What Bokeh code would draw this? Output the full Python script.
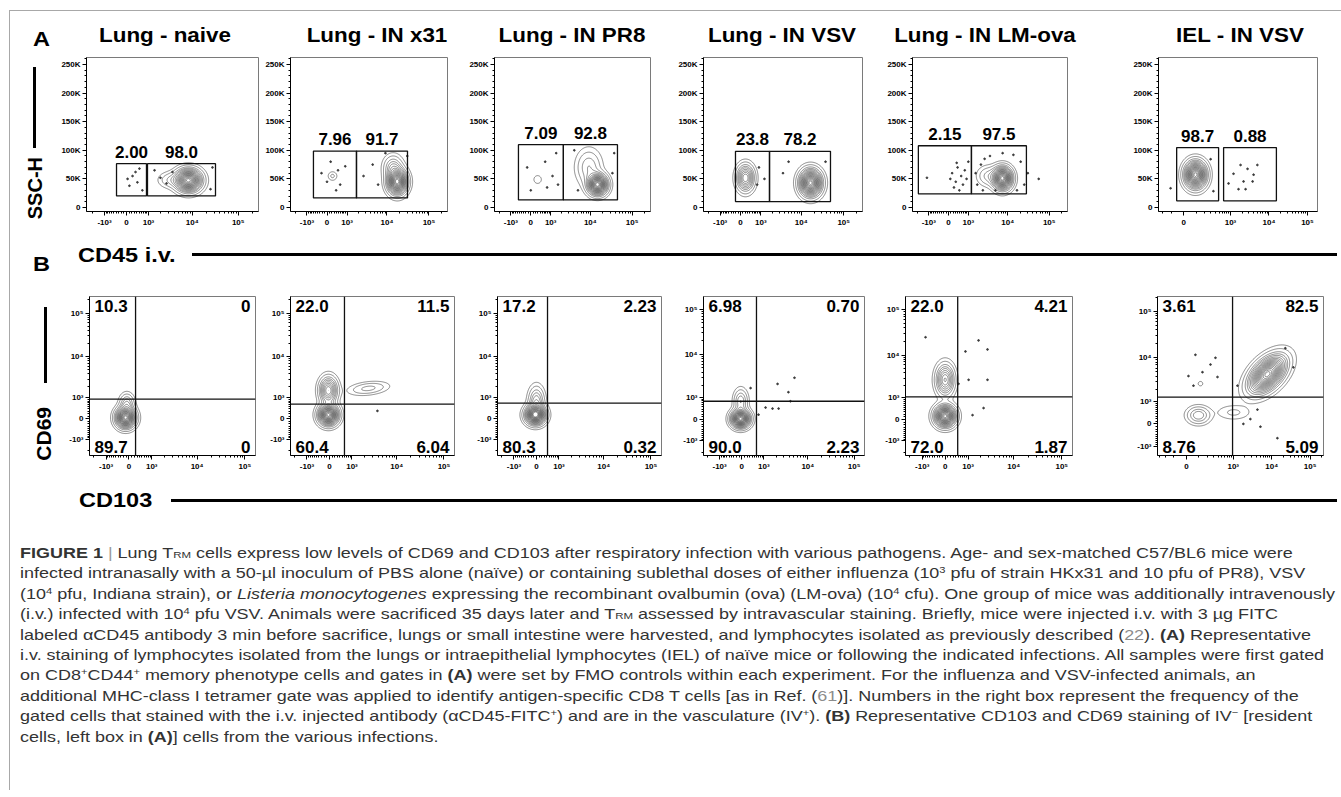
import numpy as np
from bokeh.plotting import figure
from bokeh.models import Range1d, FixedTicker, SingleIntervalTicker, Span, ColumnDataSource, Div
from bokeh.layouts import row, column
from bokeh.embed import file_html
from bokeh.resources import INLINE
from bokeh.core.properties import value

# ============================ DATA ============================
panel_titles = ["Lung - naive", "Lung - IN x31", "Lung - IN PR8",
                "Lung - IN VSV", "Lung - IN LM-ova", "IEL - IN VSV"]

# ---- (A) CD45 i.v. (x) vs SSC-H (y) ----
a_left_gate_x = [(-390, 880), (-610, 1810), (-550, 2200), (-205, 1725), (-1930, 1230), (-52, 486)]
a_right_gate_x = [(940, 32100), (1810, 30800), (2200, 44600), (1725, 48800), (1230, 28200), (660, 15600)]
a_gate_ssc = [(20300, 76500), (16800, 98600), (13300, 109800), (10300, 98200), (23900, 107900), (11600, 104700)]
a_pct_left = ["2.00", "7.96", "7.09", "23.8", "2.15", "98.7"]
a_pct_right = ["98.0", "91.7", "92.8", "78.2", "97.5", "0.88"]
a_cd45_cofactor = [750, 750, 750, 750, 750, 122]

# populations: (CD45, SSC, spread CD45 [asinh units], spread SSC, peak, correlation)
a_pops = [
    [(8300, 47500, 0.36, 11000, 1.0, 0.0), (3350, 48000, 0.35, 8000, 0.10, 0.0)],
    [(17600, 45000, 0.30, 12000, 1.0, 0.0), (14000, 70000, 0.30, 12000, 0.20, 0.0),
     (230, 55000, 0.16, 5000, 0.06, 0.0)],
    [(14900, 40000, 0.30, 10000, 1.0, 0.0), (9190, 70000, 0.40, 18000, 0.15, 0.0),
     (290, 48900, 0.15, 5000, 0.05, 0.0)],
    [(16600, 43000, 0.33, 13000, 1.0, 0.0), (205, 51700, 0.27, 13000, 0.5, 0.0)],
    [(7440, 51000, 0.30, 11000, 1.0, 0.0), (3350, 55000, 0.35, 10000, 0.12, 0.0)],
    [(94, 57300, 0.36, 13000, 1.0, 0.0)],
]
a_dots_cd45 = [
    [230, 350, 430, 110, 520, 40, 660, 1980, 2720, 3700, 1430, 27600, 25000],
    [0, 480, 590, -230, 390, 880, 150, 2720, 4540, 6140, 30500, 9190],
    [-150, 660, 1130, 770, 0, 1430, 1600, 4100, 37300, 33800, 5030],
    [880, 1270, 770, 3700, 5030, 37300],
    [150, 308, 391, 570, 666, 229, 770, 881, 478, 75, -1130, 1000, 349,
     1600, 1770, 2200, 2720, 3700, 7510, 13700, 20500, 25000, 16700, 2460, 5030, 30500, 55700],
    [1830, 2780, 3990, 5010, 2190, 3760, 1200, 1620, 2470, 890, -105, 294, 352],
]
a_dots_ssc = [
    [55000, 62000, 44000, 38000, 68000, 50000, 30000, 52000, 42000, 62000, 65000, 70000, 32000],
    [45000, 65000, 40000, 60000, 30000, 72000, 80000, 55000, 75000, 40000, 90000, 95000],
    [70000, 80000, 55000, 35000, 30000, 95000, 40000, 100000, 95000, 60000, 30000],
    [70000, 50000, 40000, 60000, 80000, 80000],
    [60000, 45000, 70000, 55000, 40000, 35000, 65000, 50000, 30000, 50000, 52000, 80000, 78000,
     60000, 40000, 75000, 85000, 90000, 95000, 92000, 80000, 40000, 30000, 30000, 30000, 60000, 50000],
    [74300, 67500, 57300, 74300, 45500, 45500, 59000, 32000, 32000, 42000, 33600, 84400, 28500],
]
ssc_ticks = [0, 50000, 100000, 150000, 200000, 250000]
ssc_tick_labels = ["0", "50K", "100K", "150K", "200K", "250K"]

# ---- (B) CD103 (x) vs CD69 (y) ----
b_thr_cd103 = [244, 600, 425, 600, 478, 960]
b_thr_cd69 = [917, 638, 686, 780, 1060, 1320]
b_pct_ul = ["10.3", "22.0", "17.2", "6.98", "22.0", "3.61"]
b_pct_ur = ["0", "11.5", "2.23", "0.70", "4.21", "82.5"]
b_pct_ll = ["89.7", "60.4", "80.3", "90.0", "72.0", "8.76"]
b_pct_lr = ["0", "6.04", "0.32", "2.23", "1.87", "5.09"]
b_cd103_cofactor = [750, 750, 750, 750, 750, 122]
b_pops = [
    [(-120, 38, 0.26, 0.30, 1.0, 0.0), (-75, 666, 0.20, 0.30, 0.2, 0.0)],
    [(-38, 150, 0.27, 0.30, 1.0, 0.0), (-38, 1580, 0.25, 0.40, 0.5, 0.0), (2450, 1780, 0.55, 0.20, 0.12, 0.3)],
    [(-38, 150, 0.27, 0.28, 1.0, 0.0), (0, 780, 0.22, 0.45, 0.25, 0.0)],
    [(-45, 15, 0.26, 0.25, 1.0, 0.0), (-38, 780, 0.20, 0.35, 0.2, 0.0)],
    [(0, 128, 0.28, 0.30, 1.0, 0.0), (0, 2780, 0.25, 0.45, 0.45, 0.0)],
    [(7780, 4400, 0.62, 0.52, 1.0, 0.5), (96, 332, 0.40, 0.25, 0.2, 0.0),
     (1020, 450, 0.6, 0.22, 0.06, 0.0), (115, 2720, 0.1, 0.08, 0.05, 0.0)],
]
b_dots_cd103 = [
    [], [3860], [],
    [2160, 3780, 5130, 1110, 1650, 2280, 4190, 340, 700],
    [-814, 1780, 2800, 850, 2800, 1030, 2300, 1290, 513],
    [69, 136, 243, 382, 336, 15, 53, 1290, 2800, 4270, 5110, 1840, 22700, 36700, 14100],
]
b_dots_cd69 = [
    [], [316], [],
    [2180, 1380, 3020, 470, 425, 425, 780, 1740, 174],
    [24800, 21100, 13300, 12000, 2780, 2780, 460, 166, 2250],
    [11600, 4870, 7150, 3820, 10000, 4010, 2450, 2450, 182, 578, -105, 0, 16100, 6210, -578],
]
biex_major = [-1000, 0, 1000, 10000, 100000]
biex_major_labels = ["-10\u00b3", "0", "10\u00b3", "10\u2074", "10\u2075"]

# ============================ HELPERS ============================
FONT = "'Liberation Sans', Arial, Helvetica, sans-serif"
LEVELS = [0.02, 0.05, 0.1, 0.15, 0.2, 0.26, 0.32, 0.38, 0.44, 0.5, 0.56, 0.62, 0.68,
          0.74, 0.8, 0.86, 0.92, 0.97]
CONTOUR_COLOR = "#3c3c3c"


def T(v, c):
    return np.arcsinh(np.asarray(v, dtype=float) / c)


def biex_axis(ax, c, lo_u, hi_u, with_neg=True):
    majors, labels = [], {}
    for v, lab in zip(biex_major, biex_major_labels):
        if v < 0 and not with_neg:
            continue
        u = round(float(T(v, c)), 6)
        if lo_u <= u <= hi_u:
            key = 0 if v == 0 else u
            majors.append(key)
            labels[key] = lab
    minors = []
    for d in (2, 3, 4, 5):
        for k in range(1, 10):
            for s in (-1, 1):
                raw = s * k * 10 ** d
                if raw in biex_major or raw in (-100000, -10000):
                    continue
                u = float(T(raw, c))
                if lo_u <= u <= hi_u:
                    minors.append(round(u, 6))
    ax.ticker = FixedTicker(ticks=majors, minor_ticks=sorted(minors))
    ax.major_label_overrides = labels


def style_axis(ax):
    ax.axis_line_color = "black"
    ax.axis_line_width = 1
    ax.major_tick_out = 4
    ax.major_tick_in = 0
    ax.minor_tick_out = 2
    ax.minor_tick_in = 0
    ax.major_tick_line_color = "black"
    ax.minor_tick_line_color = "black"
    ax.major_label_text_font = "Liberation Sans"
    ax.major_label_text_font_style = "bold"
    ax.major_label_text_font_size = "8px"
    ax.major_label_text_color = "black"
    ax.major_label_standoff = 2


def make_fig(w, h, bl, br, bt, bb, xr, yr):
    p = figure(width=w, height=h, x_range=Range1d(*xr), y_range=Range1d(*yr),
               toolbar_location=None, output_backend="svg",
               min_border_left=bl, min_border_right=br, min_border_top=bt, min_border_bottom=bb,
               outline_line_color="#7a7a7a", outline_line_width=1,
               background_fill_color="white", border_fill_color="white")
    p.grid.visible = False
    style_axis(p.xaxis[0])
    style_axis(p.yaxis[0])
    return p


def add_density(p, xr, yr, pops, cx, ytrans):
    xg = np.linspace(xr[0], xr[1], 260)
    yg = np.linspace(yr[0], yr[1], 260)
    X, Y = np.meshgrid(xg, yg)
    Z = np.zeros_like(X)
    for (px, py, sx, sy, a, rho) in pops:
        mx = float(T(px, cx))
        my = ytrans(py)
        dx = (X - mx) / sx
        dy = (Y - my) / sy
        q = (dx ** 2 - 2 * rho * dx * dy + dy ** 2) / (1 - rho ** 2)
        Z += a * np.exp(-0.5 * q)
    p.contour(x=xg, y=yg, z=Z, levels=LEVELS, line_color=CONTOUR_COLOR, line_width=0.6)


def abs_text(txt, left, top, size, bold=True, center=False, sx=1.12, extra=""):
    tr = f"translateX(-50%) scaleX({sx})" if center else f"scaleX({sx})"
    origin = "center top" if center else "left top"
    weight = "bold" if bold else "normal"
    return (f'<div style="position:absolute;left:{left}px;top:{top}px;font-family:{FONT};'
            f'font-size:{size}px;font-weight:{weight};line-height:1;white-space:nowrap;'
            f'transform:{tr};transform-origin:{origin};color:#000;{extra}">{txt}</div>')


def vtext(txt, left, top, size):
    return (f'<div style="position:absolute;left:{left}px;top:{top}px;font-family:{FONT};'
            f'font-size:{size}px;font-weight:bold;line-height:1;white-space:nowrap;'
            f'writing-mode:vertical-rl;transform:rotate(180deg);color:#000">{txt}</div>')


def rect(left, top, w, h, color="#000"):
    return (f'<div style="position:absolute;left:{left}px;top:{top}px;width:{w}px;height:{h}px;'
            f'background:{color}"></div>')


BORDER = "#a8a8a8"
BX = 9          # page x of the figure frame's left border
RIGHT_EDGE = 1338
PAGE_W = RIGHT_EDGE


def band(w, h, inner, top_border=False):
    html = f'<div style="position:relative;width:{w}px;height:{h}px;overflow:visible">'
    if top_border:
        html += rect(BX, 10, 1341 - BX, 1, BORDER) + rect(BX, 10, 1, h - 10, BORDER)
    else:
        html += rect(BX, 0, 1, h, BORDER)
    html += inner + '</div>'
    return Div(text=html, width=w, height=h, margin=0, styles={"overflow": "visible"})


# ============================ TITLE BAND (page y 0-48) ============================
title_centers = [165, 377, 572, 782, 985, 1240]
inner = abs_text("A", 33, 27.5, 21)
for t, cxp in zip(panel_titles, title_centers):
    inner += abs_text(t, cxp, 25, 20, center=True)
title_band = band(PAGE_W, 48, inner, top_border=True)

# ============================ ROW A (page y 48-236) ============================
A_L = [86, 290, 494, 703, 912, 1158]
A_W = [172, 157, 156, 159, 155, 159]
A_T = [57, 57, 57, 55, 54, 52]
A_B = [215, 215, 216, 211, 211, 211]
A_XR = [(-2.0, 6.6)] * 5 + [(-1.5, 8.0)]
A_YR = (-7000, 262144)
A_TOP, A_H = 48, 188

starts = [l - 30 for l in A_L]
ends = starts[1:] + [RIGHT_EDGE]
figs_a = []
for i in range(6):
    w = ends[i] - starts[i]
    br = w - 30 - A_W[i]
    bt = A_T[i] - A_TOP
    bb = A_TOP + A_H - A_B[i]
    cx = a_cd45_cofactor[i]
    p = make_fig(w, A_H, 30, br, bt, bb, A_XR[i], A_YR)
    biex_axis(p.xaxis[0], cx, A_XR[i][0], A_XR[i][1], with_neg=(cx == 750))
    p.yaxis[0].ticker = SingleIntervalTicker(interval=50000, num_minor_ticks=5)
    p.yaxis[0].major_label_overrides = {t: l for t, l in zip(ssc_ticks, ssc_tick_labels)}
    add_density(p, A_XR[i], A_YR, a_pops[i], cx, lambda v: float(v))
    p.scatter(x=T(a_dots_cd45[i], cx), y=a_dots_ssc[i], size=1.7, color="#3a3a3a")
    gl = T(a_left_gate_x[i], cx)
    gr = T(a_right_gate_x[i], cx)
    y0, y1 = a_gate_ssc[i]
    gsrc = ColumnDataSource(dict(left=[gl[0], gr[0]], right=[gl[1], gr[1]],
                                 bottom=[y0, y0], top=[y1, y1],
                                 cx=[(gl[0] + gl[1]) / 2, (gr[0] + gr[1]) / 2],
                                 txt=[a_pct_left[i], a_pct_right[i]]))
    p.quad(left="left", right="right", bottom="bottom", top="top", source=gsrc,
           fill_color=None, line_color="#111111", line_width=1.3)
    p.text(x="cx", y="top", text="txt", source=gsrc, text_align="center", text_baseline="bottom",
           y_offset=-6, text_font=value("Liberation Sans"), text_font_style="bold",
           text_font_size="17px", text_color="black")
    figs_a.append(p)

left_a = band(starts[0], A_H, rect(33, 19, 3, 81) + vtext("SSC-H", 25, 109, 20))
row_a = row([left_a] + figs_a)

# ============================ CD45 BAND (page y 236-280) ============================
inner = abs_text("B", 33, 16.5, 21) + abs_text("CD45 i.v.", 78, 7.5, 21) + rect(192, 17, 1145, 3)
cd45_band = band(PAGE_W, 44, inner)

# ============================ ROW B (page y 280-484) ============================
B_L = [89, 290, 497, 703, 905, 1157]
B_W = [166, 164, 164, 161, 167, 166]
B_T = [296, 296, 296, 293, 292, 289]
B_B = [460, 460, 460, 455, 455, 455]
B_XR = [(-1.9, 6.1)] * 5 + [(-1.73, 8.2)]
B_YR = [(-1.95, 6.46)] * 3 + [(-1.84, 6.22), (-1.84, 6.27), (-1.57, 6.33)]
B_TOP, B_H = 280, 204

starts_b = [l - 30 for l in B_L]
ends_b = starts_b[1:] + [RIGHT_EDGE]
figs_b = []
for i in range(6):
    w = ends_b[i] - starts_b[i]
    br = w - 30 - B_W[i]
    bt = B_T[i] - B_TOP
    bb = B_TOP + B_H - B_B[i]
    cx = b_cd103_cofactor[i]
    xr, yr = B_XR[i], B_YR[i]
    p = make_fig(w, B_H, 30, br, bt, bb, xr, yr)
    biex_axis(p.xaxis[0], cx, xr[0], xr[1], with_neg=(cx == 750))
    biex_axis(p.yaxis[0], 750, yr[0], yr[1], with_neg=True)
    add_density(p, xr, yr, b_pops[i], cx, lambda v: float(T(v, 750)))
    if b_dots_cd103[i]:
        p.scatter(x=T(b_dots_cd103[i], cx), y=T(b_dots_cd69[i], 750), size=1.7, color="#3a3a3a")
    p.add_layout(Span(location=float(T(b_thr_cd103[i], cx)), dimension="height",
                      line_color="#111111", line_width=1.3))
    p.add_layout(Span(location=float(T(b_thr_cd69[i], 750)), dimension="width",
                      line_color="#111111", line_width=1.3))
    common = dict(text_font=value("Liberation Sans"), text_font_style="bold",
                  text_font_size="17px", text_color="black")
    p.text(x=[xr[0]], y=[yr[1]], text=[b_pct_ul[i]], text_align="left", text_baseline="top",
           x_offset=5, y_offset=3, **common)
    p.text(x=[xr[1]], y=[yr[1]], text=[b_pct_ur[i]], text_align="right", text_baseline="top",
           x_offset=-5, y_offset=3, **common)
    p.text(x=[xr[0]], y=[yr[0]], text=[b_pct_ll[i]], text_align="left", text_baseline="bottom",
           x_offset=5, y_offset=-3, **common)
    p.text(x=[xr[1]], y=[yr[0]], text=[b_pct_lr[i]], text_align="right", text_baseline="bottom",
           x_offset=-5, y_offset=-3, **common)
    figs_b.append(p)

left_b = band(starts_b[0], B_H, rect(44, 27, 3, 76) + vtext("CD69", 32.5, 127, 21))
row_b = row([left_b] + figs_b)

# ============================ CD103 BAND (page y 484-520) ============================
inner = abs_text("CD103", 79, 5, 21) + rect(171, 14.5, 1166, 3)
cd103_band = band(PAGE_W, 36, inner)

# ============================ CAPTION (page y 520-790) ============================
def sup(s):
    return f'<sup style="font-size:0.62em;vertical-align:0.5em;line-height:0">{s}</sup>'


RM = '<span style="font-size:0.64em;vertical-align:-0.05em">RM</span>'


def gray(s):
    return f'<span style="color:#8c8c8c">{s}</span>'


caption_lines = [
    '<b>FIGURE 1</b> <span style="color:#9a9a9a">|</span> Lung T' + RM +
    ' cells express low levels of CD69 and CD103 after respiratory infection with various pathogens. Age- and sex-matched C57/BL6 mice were',
    'infected intranasally with a 50-\u00b5l inoculum of PBS alone (na\u00efve) or containing sublethal doses of either influenza (10' + sup('3') +
    ' pfu of strain HKx31 and 10 pfu of PR8), VSV',
    '(10' + sup('4') + ' pfu, Indiana strain), or <i>Listeria monocytogenes</i> expressing the recombinant ovalbumin (ova) (LM-ova) (10' + sup('4') +
    ' cfu). One group of mice was additionally intravenously',
    '(i.v.) infected with 10' + sup('4') + ' pfu VSV. Animals were sacrificed 35 days later and T' + RM +
    ' assessed by intravascular staining. Briefly, mice were injected i.v. with 3 \u00b5g FITC',
    'labeled \u03b1CD45 antibody 3 min before sacrifice, lungs or small intestine were harvested, and lymphocytes isolated as previously described (' +
    gray('22') + '). <b>(A)</b> Representative',
    'i.v. staining of lymphocytes isolated from the lungs or intraepithelial lymphocytes (IEL) of na\u00efve mice or following the indicated infections. All samples were first gated',
    'on CD8' + sup('+') + 'CD44' + sup('+') +
    ' memory phenotype cells and gates in <b>(A)</b> were set by FMO controls within each experiment. For the influenza and VSV-infected animals, an',
    'additional MHC-class I tetramer gate was applied to identify antigen-specific CD8 T cells [as in Ref. (' + gray('61') +
    ')]. Numbers in the right box represent the frequency of the',
    'gated cells that stained with the i.v. injected antibody (\u03b1CD45-FITC' + sup('+') + ') and are in the vasculature (IV' + sup('+') +
    '). <b>(B)</b> Representative CD103 and CD69 staining of IV' + sup('\u2212') + ' [resident',
    'cells, left box in <b>(A)</b>] cells from the various infections.',
]
cap_inner = '<div style="position:absolute;left:20px;top:23px;">'
for ln in caption_lines:
    cap_inner += (f'<div style="font-family:{FONT};font-size:15px;line-height:20.4px;height:20.4px;'
                  f'white-space:nowrap;color:#333;transform:scaleX(1.198);transform-origin:left top">{ln}</div>')
cap_inner += '</div>'
caption_band = band(PAGE_W, 270, cap_inner)

layout = column([title_band, row_a, cd45_band, row_b, cd103_band, caption_band])

with open("out.html", "w", encoding="utf-8") as f:
    f.write(file_html(layout, INLINE))
